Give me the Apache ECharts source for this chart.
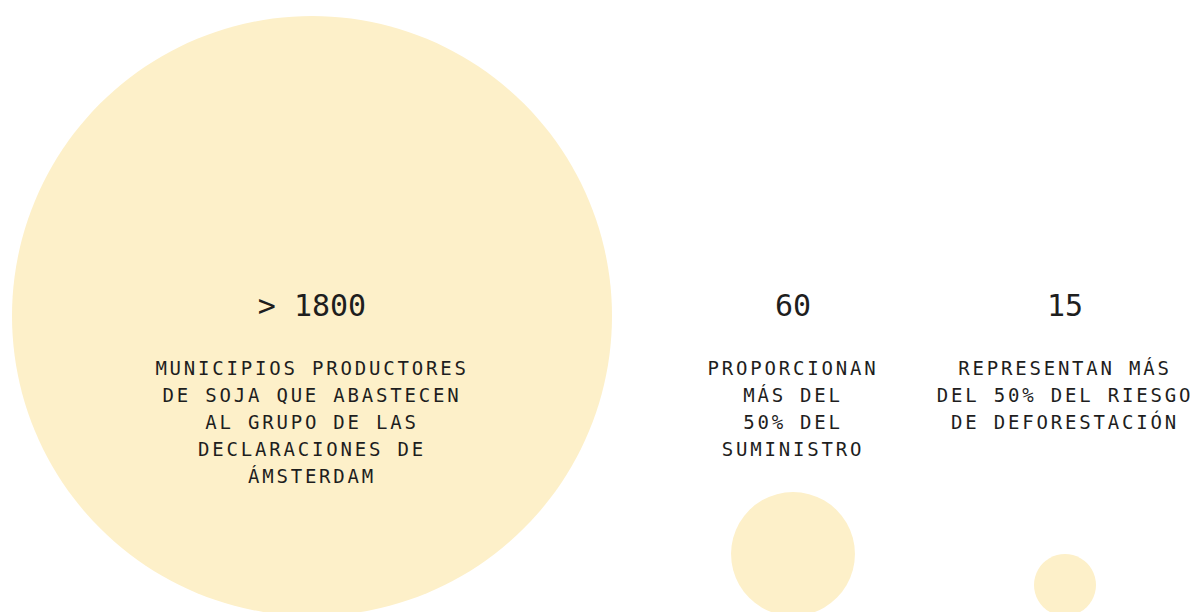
<!DOCTYPE html>
<html>
<head>
<meta charset="utf-8">
<script src="https://cdn.jsdelivr.net/npm/echarts@6/dist/echarts.min.js"></script>
<style>
  html, body { margin: 0; padding: 0; background: #ffffff; }
  #chart { width: 1194px; height: 612px; }
  /* descriptions are letter-spaced, the big numbers are not */
  #chart text[style*="19px"] { letter-spacing: 2.8px; }
</style>
</head>
<body>
<div id="chart"></div>
<script>
  // values behind the circles (circle area ~ value, biggest one capped)
  var values = [1800, 60, 15];
  var numberLabels = ['> 1800', '60', '15'];
  var descriptions = [
    'MUNICIPIOS PRODUCTORES\nDE SOJA QUE ABASTECEN\nAL GRUPO DE LAS\nDECLARACIONES DE\nÁMSTERDAM',
    'PROPORCIONAN\nMÁS DEL\n50% DEL\nSUMINISTRO',
    'REPRESENTAN MÁS\nDEL 50% DEL RIESGO\nDE DEFORESTACIÓN'
  ];

  // layout (axis units == pixels)
  var columnX = [312, 793, 1065];
  var baseY = 616;
  var numberY = 305;
  var descY = 354.5;

  var circleColor = '#fdf0c9';
  var textColor = '#1e1e1e';

  var chart = echarts.init(document.getElementById('chart'), null, {renderer: 'svg'});

  function sizeOf(v) {
    return Math.min(600, 16 * Math.sqrt(v));
  }

  var option = {
    animation: false,
    backgroundColor: '#ffffff',
    grid: {left: 0, right: 0, top: 0, bottom: 0},
    xAxis: {type: 'value', min: 0, max: 1194, show: false},
    yAxis: {type: 'value', min: 0, max: 612, inverse: true, show: false},
    series: [
      {
        name: 'circles',
        type: 'scatter',
        clip: false,
        silent: true,
        symbol: 'circle',
        symbolOffset: [0, '-50%'],
        symbolSize: function (d) { return sizeOf(d[2]); },
        itemStyle: {color: circleColor, opacity: 1},
        data: values.map(function (v, i) { return [columnX[i], baseY, v]; }),
        z: 1
      },
      {
        name: 'numbers',
        type: 'scatter',
        silent: true,
        symbolSize: 0,
        itemStyle: {opacity: 1},
        label: {
          show: true,
          position: 'inside',
          formatter: function (p) { return numberLabels[p.dataIndex]; },
          fontFamily: 'DejaVu Sans Mono',
          fontSize: 30,
          color: textColor,
          opacity: 1
        },
        data: numberLabels.map(function (t, i) { return [columnX[i], numberY]; }),
        z: 2
      },
      {
        name: 'descriptions',
        type: 'scatter',
        silent: true,
        symbolSize: 0,
        itemStyle: {opacity: 1},
        label: {
          show: true,
          position: 'bottom',
          distance: 0,
          align: 'center',
          formatter: function (p) { return descriptions[p.dataIndex]; },
          fontFamily: 'DejaVu Sans Mono',
          fontSize: 19,
          lineHeight: 27,
          color: textColor,
          opacity: 1
        },
        data: descriptions.map(function (t, i) { return [columnX[i], descY]; }),
        z: 2
      }
    ]
  };

  chart.setOption(option);
</script>
</body>
</html>
